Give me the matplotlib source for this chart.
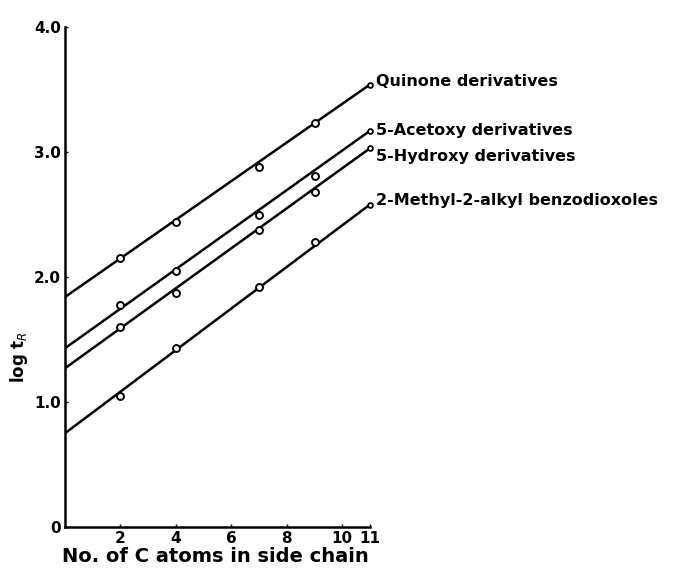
import matplotlib
matplotlib.use('Agg')
import matplotlib.pyplot as plt

# ── Data ──────────────────────────────────────────────────────────────────────
series_names = ['Quinone derivatives', '5-Acetoxy derivatives',
                '5-Hydroxy derivatives', '2-Methyl-2-alkyl benzodioxoles']

# fitted lines, from the y axis (x=0) to x=11
line_x = [0, 11]
quinone_line = [1.84, 3.54]
acetoxy_line = [1.43, 3.17]
hydroxy_line = [1.27, 3.03]
benzo_line = [0.75, 2.58]

# measured points
point_x = [2, 4, 7, 9]
quinone_pts = [2.15, 2.44, 2.88, 3.23]
acetoxy_pts = [1.78, 2.05, 2.50, 2.81]
hydroxy_pts = [1.60, 1.87, 2.38, 2.68]
benzo_pts = [1.05, 1.43, 1.92, 2.28]

x_ticks = [2, 4, 6, 8, 10, 11]
y_ticks = [0, 1.0, 2.0, 3.0, 4.0]
y_ticklabels = ['0', '1.0', '2.0', '3.0', '4.0']

lines = [quinone_line, acetoxy_line, hydroxy_line, benzo_line]
points = [quinone_pts, acetoxy_pts, hydroxy_pts, benzo_pts]
label_shift = [0.02, 0.0, -0.07, 0.03]   # small vertical nudge of the end labels

# ── Figure ────────────────────────────────────────────────────────────────────
plt.rcParams['font.family'] = ['DejaVu Sans']
fig = plt.figure(figsize=(6.8, 5.7), dpi=100)
ax = fig.add_axes([65 / 680, 43 / 570, 305 / 680, 500 / 570])

for name, ln, pts, dy in zip(series_names, lines, points, label_shift):
    ax.plot(line_x, ln, color='black', lw=1.8, solid_capstyle='round')
    ax.plot(point_x, pts, 'o', ms=5, mfc='white', mec='black', mew=1.4)
    ax.plot(line_x[-1], ln[-1], 'o', ms=3.5, mfc='white', mec='black',
            mew=1.3, clip_on=False)
    ax.text(line_x[-1] + 0.2, ln[-1] + dy, name, ha='left', va='center',
            fontsize=11.5, fontweight='bold', color='black', clip_on=False)

ax.set_xlim(0, 11)
ax.set_ylim(0, 4.0)
ax.set_xticks(x_ticks)
ax.set_yticks(y_ticks)
ax.set_yticklabels(y_ticklabels)
ax.tick_params(direction='in', length=2, width=1, labelsize=11, pad=3)
for lbl in ax.get_xticklabels() + ax.get_yticklabels():
    lbl.set_fontweight('bold')
for side in ['top', 'right']:
    ax.spines[side].set_visible(False)
for side in ['left', 'bottom']:
    ax.spines[side].set_linewidth(1.8)

ax.text(-0.15, 0.34, 'log t$_R$', transform=ax.transAxes, rotation=90,
        ha='center', va='center', fontsize=12, fontweight='bold')
fig.text(62 / 680, 1 - 557 / 570, 'No. of C atoms in side chain',
         ha='left', va='center', fontsize=14, fontweight='bold')

fig.savefig('out.png', dpi=100, facecolor='white')
